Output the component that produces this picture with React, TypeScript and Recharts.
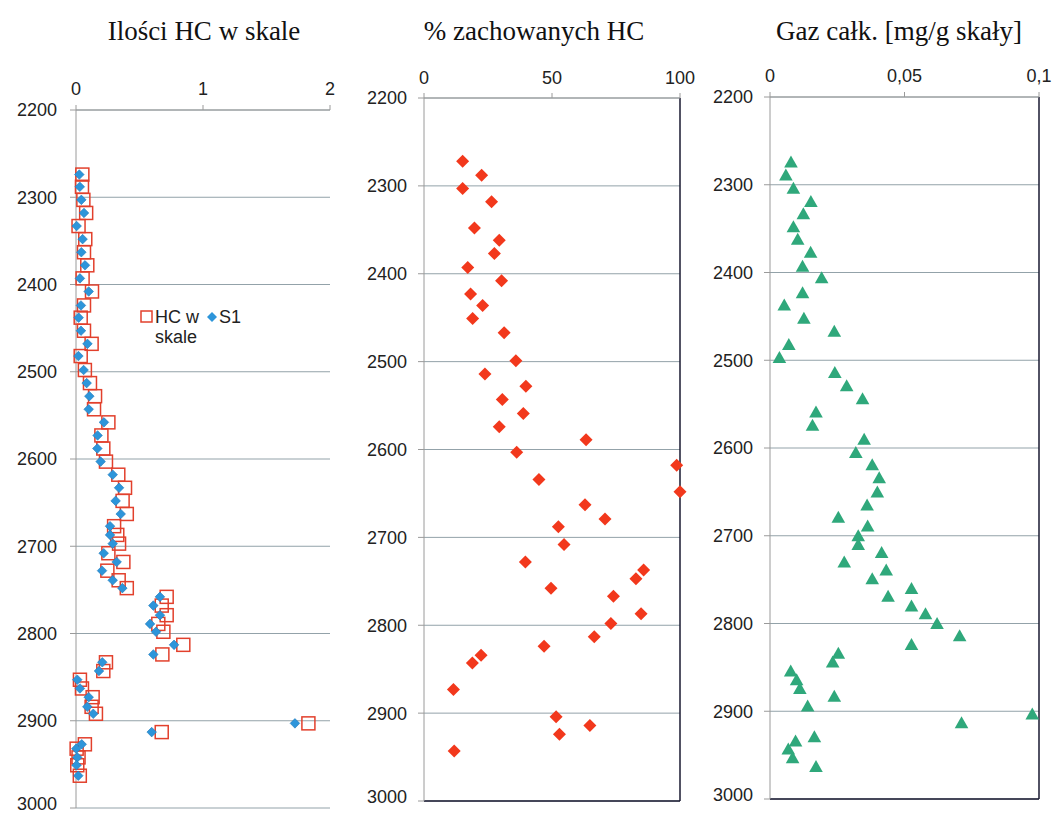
import { ScatterChart, Scatter, XAxis, YAxis, CartesianGrid, ReferenceLine, Legend } from 'recharts'

const depthTicks = [2200, 2300, 2400, 2500, 2600, 2700, 2800, 2900, 3000]

// Ilości HC w skale
const hcTicks = [0, 1, 2]
const hcDepth = [
  2274, 2288, 2303, 2318, 2333, 2348, 2363, 2378, 2393, 2408, 2424, 2438, 2453, 2468, 2482,
  2498, 2513, 2528, 2543, 2558, 2573, 2588, 2603, 2618, 2633, 2648, 2663, 2677, 2687, 2697,
  2708, 2718, 2728, 2739, 2748, 2758, 2768, 2779, 2789, 2798, 2813, 2824, 2833, 2843, 2853,
  2863, 2873, 2884, 2892, 2903, 2913, 2927, 2932, 2942, 2951, 2963,
]
const hcInRock = [
  0.05, 0.047, 0.058, 0.08, 0.02, 0.073, 0.063, 0.089, 0.052, 0.126, 0.063, 0.037, 0.063, 0.123, 0.037,
  0.07, 0.11, 0.15, 0.142, 0.255, 0.2, 0.215, 0.236, 0.333, 0.386, 0.367, 0.4, 0.3, 0.325, 0.339,
  0.255, 0.373, 0.247, 0.336, 0.4, 0.714, 0.675, 0.714, 0.648, 0.688, 0.845, 0.68, 0.236, 0.215, 0.031,
  0.047, 0.131, 0.123, 0.157, 1.83, 0.675, 0.07, 0.005, 0.02, 0.01, 0.03,
]
const s1Values = [
  0.026, 0.03, 0.042, 0.063, 0.005, 0.052, 0.042, 0.071, 0.031, 0.1, 0.039, 0.021, 0.039, 0.09, 0.019,
  0.06, 0.084, 0.105, 0.1, 0.22, 0.17, 0.168, 0.194, 0.289, 0.339, 0.312, 0.352, 0.268, 0.268, 0.289,
  0.218, 0.32, 0.205, 0.289, 0.365, 0.661, 0.609, 0.661, 0.583, 0.63, 0.772, 0.609, 0.207, 0.181, 0.01,
  0.031, 0.1, 0.089, 0.136, 1.724, 0.596, 0.045, 0.002, 0.01, 0.004, 0.018,
]

// % zachowanych HC
const pctTicks = [0, 50, 100]
const pctDepth = [
  2272, 2288, 2303, 2318, 2348, 2362, 2377, 2393, 2408, 2423, 2436, 2451, 2467, 2499, 2514,
  2528, 2543, 2559, 2574, 2589, 2603, 2618, 2634, 2648, 2663, 2679, 2688, 2708, 2728, 2737,
  2747, 2758, 2767, 2787, 2798, 2813, 2824, 2834, 2843, 2873, 2904, 2914, 2924, 2943,
]
const pctValues = [
  15.1, 22.5, 15.1, 26.4, 19.7, 29.4, 27.5, 17.1, 30.3, 18.2, 22.9, 19, 31.3, 35.9, 23.8,
  39.8, 30.6, 38.8, 29.4, 63.3, 36.2, 98.7, 44.9, 100, 62.9, 70.7, 52.5, 54.7, 39.6, 85.8,
  82.8, 49.6, 74, 84.8, 73, 66.5, 46.9, 22.3, 18.9, 11.5, 51.6, 64.8, 52.9, 11.8,
]

// Gaz całk. [mg/g skały]
const gasTicks = [0, 0.05, 0.1]
const gasDepth = [
  2274, 2289, 2304, 2319, 2333, 2348, 2362, 2377, 2393, 2406, 2423, 2437, 2452, 2467, 2482,
  2497, 2514, 2529, 2544, 2559, 2574, 2590, 2605, 2619, 2634, 2650, 2665, 2679, 2689, 2700,
  2710, 2719, 2730, 2739, 2749, 2760, 2769, 2780, 2789, 2800, 2814, 2824, 2834, 2844, 2854,
  2864, 2874, 2883, 2894, 2903, 2913, 2929, 2934, 2943, 2953, 2963,
]
const gasValues = [
  0.0078, 0.0059, 0.0087, 0.0152, 0.0124, 0.0087, 0.0103, 0.0151, 0.0121, 0.0192, 0.0121, 0.0053, 0.0126, 0.0239, 0.007,
  0.0035, 0.0241, 0.0285, 0.0344, 0.0171, 0.0158, 0.035, 0.0319, 0.038, 0.0406, 0.0399, 0.0361, 0.0254, 0.0363, 0.0328,
  0.0328, 0.0415, 0.0276, 0.0432, 0.038, 0.0526, 0.0439, 0.0526, 0.0578, 0.0621, 0.0705, 0.0526, 0.0254, 0.0233, 0.0077,
  0.0099, 0.0111, 0.0239, 0.014, 0.0975, 0.0712, 0.0165, 0.0095, 0.0068, 0.0084, 0.0171,
]

const toPoints = (depth: number[], values: number[]) => depth.map((d, i) => ({ depth: d, value: values[i] }))

const hcData = toPoints(hcDepth, hcInRock)
const s1Data = toPoints(hcDepth, s1Values)
const pctData = toPoints(pctDepth, pctValues)
const gasData = toPoints(gasDepth, gasValues)

const GRID = '#93a2a9'
const AXIS = '#9a9a9a'
const BORDER = '#181830'
const tickStyle = { fontSize: 18, fill: '#222', fontFamily: 'Liberation Sans, Arial, sans-serif' }

const Square = ({ cx, cy }: any) => (
  <rect x={cx - 6.5} y={cy - 6.5} width={13} height={13} fill="none" stroke="#e2402c" strokeWidth={1.5} />
)
const BlueDiamond = ({ cx, cy }: any) => (
  <path d={`M${cx},${cy - 4.8}L${cx + 4.8},${cy}L${cx},${cy + 4.8}L${cx - 4.8},${cy}Z`} fill="#2d95da" stroke="#2078b8" strokeWidth={0.6} />
)
const RedDiamond = ({ cx, cy }: any) => (
  <path d={`M${cx},${cy - 6.5}L${cx + 6.5},${cy}L${cx},${cy + 6.5}L${cx - 6.5},${cy}Z`} fill="#f2381c" />
)
const Triangle = ({ cx, cy }: any) => (
  <path d={`M${cx},${cy - 6.5}L${cx + 6.8},${cy + 5.5}L${cx - 6.8},${cy + 5.5}Z`} fill="#2fa87b" />
)

const renderLegend = () => (
  <div style={{ display: 'flex', alignItems: 'flex-start', fontFamily: 'Liberation Sans, Arial, sans-serif', fontSize: 18, lineHeight: '20px', color: '#222' }}>
    <svg width={14} height={20} style={{ flexShrink: 0 }}>
      <rect x={1} y={4} width={11} height={11} fill="none" stroke="#e2402c" strokeWidth={1.5} />
    </svg>
    <span style={{ marginLeft: 1 }}>HC w<br />skale</span>
    <svg width={14} height={20} style={{ marginLeft: 6, flexShrink: 0 }}>
      <path d="M7,5L12,10L7,15L2,10Z" fill="#2d95da" />
    </svg>
    <span>S1</span>
  </div>
)

const titleStyle = (center: number): React.CSSProperties => ({
  position: 'absolute', top: 18, left: center - 200, width: 400, textAlign: 'center',
  fontFamily: 'Liberation Serif, Times New Roman, serif', fontSize: 27, lineHeight: '27px', color: '#111',
})

export default function App() {
  return (
    <div style={{ position: 'absolute', left: 0, top: 0, width: 1053, height: 814, background: '#fff', overflow: 'hidden' }}>
      <div style={titleStyle(204)}>Ilości HC w skale</div>
      <div style={titleStyle(534)}>% zachowanych HC</div>
      <div style={titleStyle(899)}>Gaz całk. [mg/g skały]</div>

      <div style={{ position: 'absolute', left: 0, top: 60 }}>
        <ScatterChart width={345} height={754} margin={{ top: 0, right: 15, bottom: 6, left: 0 }}>
          <CartesianGrid vertical={false} stroke={GRID} />
          <XAxis type="number" dataKey="value" orientation="top" domain={[0, 2]} ticks={hcTicks}
            height={50} stroke={AXIS} tickSize={5} tickMargin={10} tick={tickStyle} />
          <YAxis type="number" dataKey="depth" domain={[2200, 3000]} ticks={depthTicks} reversed
            width={76} stroke={AXIS} tickSize={6} tickMargin={13} tick={tickStyle} />
          <Scatter name="HC w skale" data={hcData} shape={Square} isAnimationActive={false} />
          <Scatter name="S1" data={s1Data} shape={BlueDiamond} isAnimationActive={false} />
          <Legend layout="horizontal" verticalAlign="middle" align="center" content={renderLegend}
            wrapperStyle={{ left: 140, top: 247, width: 'auto' }} />
        </ScatterChart>
      </div>

      <div style={{ position: 'absolute', left: 350, top: 48 }}>
        <ScatterChart width={352} height={759} margin={{ top: 0, right: 22, bottom: 6, left: 0 }}>
          <CartesianGrid vertical={false} stroke={GRID} />
          <XAxis type="number" dataKey="value" orientation="top" domain={[0, 100]} ticks={pctTicks}
            height={50} stroke={AXIS} tickSize={5} tickMargin={9} tick={tickStyle} />
          <YAxis type="number" dataKey="depth" domain={[2200, 3000]} ticks={depthTicks} reversed
            width={74} stroke={AXIS} tickSize={6} tickMargin={11} tick={tickStyle} />
          <ReferenceLine x={100} stroke={BORDER} strokeWidth={1.5} />
          <ReferenceLine y={3000} stroke={BORDER} strokeWidth={1.5} />
          <Scatter name="% zachowanych HC" data={pctData} shape={RedDiamond} isAnimationActive={false} />
        </ScatterChart>
      </div>

      <div style={{ position: 'absolute', left: 696, top: 47 }}>
        <ScatterChart width={357} height={758} margin={{ top: 0, right: 14, bottom: 6, left: 0 }}>
          <CartesianGrid vertical={false} stroke={GRID} />
          <XAxis type="number" dataKey="value" orientation="top" domain={[0, 0.1]} ticks={gasTicks}
            height={50} stroke={AXIS} tickSize={5} tickMargin={10} tick={tickStyle}
            tickFormatter={(v: number) => String(v).replace('.', ',')} />
          <YAxis type="number" dataKey="depth" domain={[2200, 3000]} ticks={depthTicks} reversed
            width={74} stroke={AXIS} tickSize={6} tickMargin={11} tick={tickStyle} />
          <ReferenceLine x={0.1} stroke={BORDER} strokeWidth={1.5} />
          <ReferenceLine y={3000} stroke={BORDER} strokeWidth={1.5} />
          <Scatter name="Gaz całk." data={gasData} shape={Triangle} isAnimationActive={false} />
        </ScatterChart>
      </div>
    </div>
  )
}
